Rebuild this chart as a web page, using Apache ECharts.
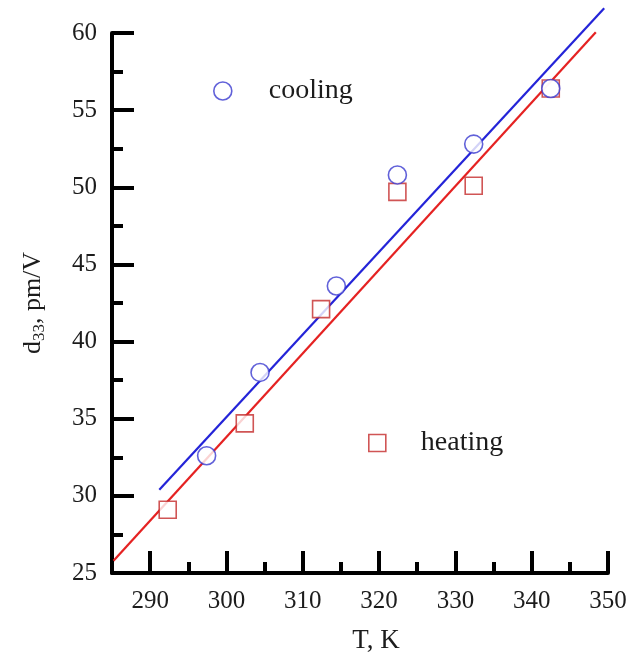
<!DOCTYPE html>
<html>
<head>
<meta charset="utf-8">
<script src="https://cdn.jsdelivr.net/npm/echarts@6/dist/echarts.min.js"></script>
<style>
  html, body { margin: 0; padding: 0; background: #fff; }
  #chart { width: 630px; height: 659px; }
</style>
</head>
<body>
<div id="chart"></div>
<script>
// Piezoelectric coefficient d33 versus temperature
const coolingT = [297.4, 304.4, 314.4, 322.4, 332.4, 342.5];
const coolingD = [32.6, 38.0, 43.6, 50.8, 52.8, 56.4];
const heatingT = [292.3, 302.4, 312.4, 322.4, 332.4, 342.5];
const heatingD = [29.1, 34.7, 42.1, 49.7, 50.1, 56.4];

// Linear fit lines (end points)
const coolingFitT = [291.2, 349.5];
const coolingFitD = [30.4, 61.6];
const heatingFitT = [285.2, 348.4];
const heatingFitD = [25.8, 60.05];

// Axis ticks
const xMajorTicks = [290, 300, 310, 320, 330, 340, 350];
const xMinorTicks = [295, 305, 315, 325, 335, 345];

const BLUE = '#2424d8';
const RED = '#e52222';
const MARK_BLUE = '#3a3ad0';
const MARK_RED = '#c42a2a';
const FONT = '"Liberation Serif", "DejaVu Serif", serif';
const TXT = '#1c1c1c';

const pairs = (a, b) => a.map((v, i) => [v, b[i]]);

const axisLineStyle = { color: '#000', width: 4 };

const chart = echarts.init(document.getElementById('chart'), null, { renderer: 'canvas' });
chart.setOption({
  backgroundColor: '#fff',
  animation: false,
  grid: { left: 112, right: 22, top: 33, bottom: 86 },
  xAxis: [
    {
      type: 'value', min: 285, max: 350, position: 'bottom',
      name: 'T, K', nameLocation: 'middle', nameGap: 54,
      nameTextStyle: { fontFamily: FONT, fontSize: 27, color: TXT, padding: [0, 0, 0, 32] },
      axisLine: { show: true, onZero: false, lineStyle: axisLineStyle },
      axisTick: { show: true, inside: true, length: 22, lineStyle: { color: '#000', width: 4 }, customValues: xMajorTicks },
      axisLabel: { margin: 16, fontFamily: FONT, fontSize: 25, color: TXT, customValues: xMajorTicks },
      splitLine: { show: false }
    },
    {
      type: 'value', min: 285, max: 350, position: 'bottom',
      axisLine: { show: false },
      axisTick: { show: true, inside: true, length: 11, lineStyle: { color: '#000', width: 4 }, customValues: xMinorTicks },
      axisLabel: { show: false },
      splitLine: { show: false }
    }
  ],
  yAxis: {
    type: 'value', min: 25, max: 60, interval: 5,
    name: '{a|d}{s|33}{a|, pm/V}', nameLocation: 'middle', nameGap: 64, nameRotate: 90,
    nameTextStyle: {
      fontFamily: FONT, fontSize: 26, color: TXT,
      rich: {
        a: { fontFamily: FONT, fontSize: 26, color: TXT },
        s: { fontFamily: FONT, fontSize: 17, color: TXT, verticalAlign: 'bottom', padding: [12, 0, 0, 0] }
      }
    },
    axisLine: { show: true, onZero: false, lineStyle: axisLineStyle },
    axisTick: { show: true, inside: true, length: 22, lineStyle: { color: '#000', width: 4 } },
    minorTick: { show: true, splitNumber: 2, length: 11, lineStyle: { color: '#000', width: 4 } },
    axisLabel: { margin: 15, fontFamily: FONT, fontSize: 25, color: TXT },
    splitLine: { show: false },
    minorSplitLine: { show: false }
  },
  legend: [
    {
      data: [{ name: 'cooling', icon: 'circle', itemStyle: { color: '#fff', borderColor: MARK_BLUE, borderWidth: 1.6 } }],
      left: 213, top: 77, itemWidth: 18, itemHeight: 18, padding: 0,
      textStyle: { fontFamily: FONT, fontSize: 28, color: TXT, padding: [0, 0, 0, 32] }
    },
    {
      data: [{ name: 'heating', icon: 'rect', itemStyle: { color: '#fff', borderColor: MARK_RED, borderWidth: 1.6 } }],
      left: 368, top: 429, itemWidth: 17, itemHeight: 17, padding: 0,
      textStyle: { fontFamily: FONT, fontSize: 28, color: TXT, padding: [0, 0, 0, 30] }
    }
  ],
  series: [
    {
      name: 'cooling fit', type: 'line', data: pairs(coolingFitT, coolingFitD),
      showSymbol: false, clip: false, z: 2,
      lineStyle: { color: BLUE, width: 2.2 }
    },
    {
      name: 'heating fit', type: 'line', data: pairs(heatingFitT, heatingFitD),
      showSymbol: false, clip: false, z: 2,
      lineStyle: { color: RED, width: 2.2 }
    },
    {
      name: 'heating', type: 'scatter', data: pairs(heatingT, heatingD),
      symbol: 'rect', symbolSize: 17, z: 3,
      itemStyle: { color: '#fff', borderColor: MARK_RED, borderWidth: 1.6 }
    },
    {
      name: 'cooling', type: 'scatter', data: pairs(coolingT, coolingD),
      symbol: 'circle', symbolSize: 18, z: 4,
      itemStyle: { color: '#fff', borderColor: MARK_BLUE, borderWidth: 1.6 }
    }
  ]
});
</script>
</body>
</html>
